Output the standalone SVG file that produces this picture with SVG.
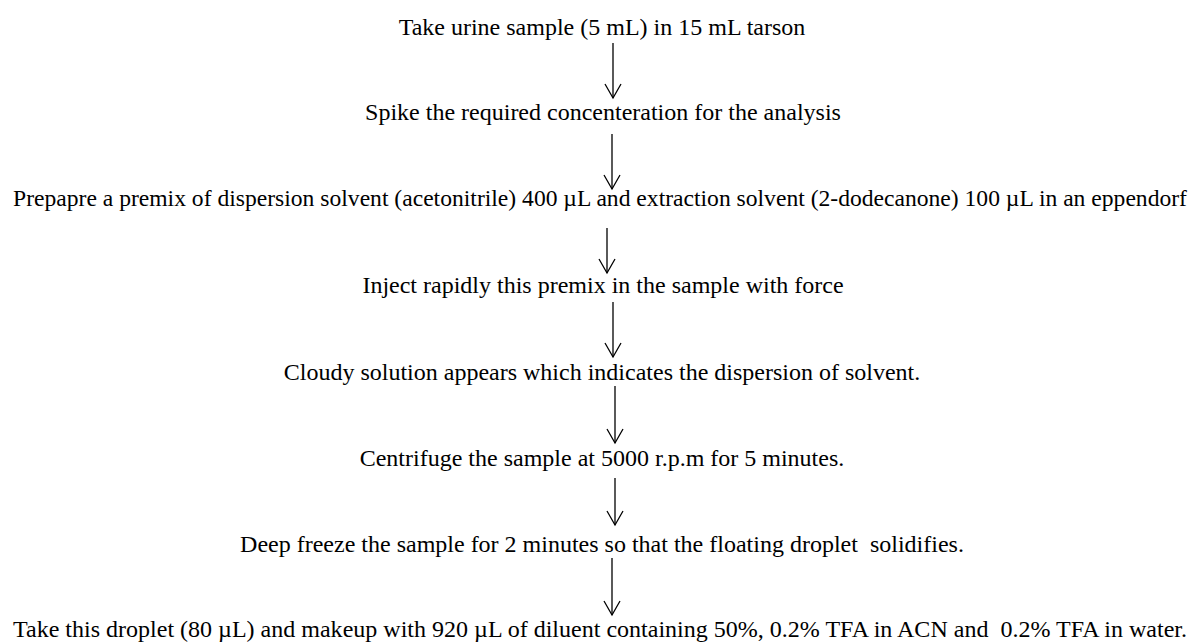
<svg xmlns="http://www.w3.org/2000/svg" width="1198" height="644" viewBox="0 0 1198 644">
  <style>
    .t { font-family: "Liberation Serif", "Times New Roman", serif; font-size: 24px; fill: #000; text-anchor: middle; }
    .c { stroke: #000; stroke-width: 1.3; fill: none; }
  </style>
  <defs>
    <marker id="ah" markerUnits="userSpaceOnUse" markerWidth="20" markerHeight="20" viewBox="-1 -1 18 20" refX="14" refY="8" orient="auto" overflow="visible">
      <path d="M0,0 L14,8 L0,16" fill="none" stroke="#000" stroke-width="1.3"/>
    </marker>
  </defs>
  <rect width="1198" height="644" fill="#fff"/>
  <g id="n1"><text class="t" x="602" y="35">Take urine sample (5 mL) in 15 mL tarson</text></g>
  <g id="n2"><text class="t" x="603" y="120">Spike the required concenteration for the analysis</text></g>
  <g id="n3"><text class="t" x="600" y="206" style="font-size:23.6px">Prepapre a premix of dispersion solvent (acetonitrile) 400 µL and extraction solvent (2-dodecanone) 100 µL in an eppendorf</text></g>
  <g id="n4"><text class="t" x="603" y="293">Inject rapidly this premix in the sample with force</text></g>
  <g id="n5"><text class="t" x="602" y="380">Cloudy solution appears which indicates the dispersion of solvent.</text></g>
  <g id="n6"><text class="t" x="602" y="466">Centrifuge the sample at 5000 r.p.m for 5 minutes.</text></g>
  <g id="n7"><text class="t" x="602" y="552" xml:space="preserve">Deep freeze the sample for 2 minutes so that the floating droplet  solidifies.</text></g>
  <g id="n8"><text class="t" x="600" y="637" xml:space="preserve" textLength="1174" lengthAdjust="spacingAndGlyphs">Take this droplet (80 µL) and makeup with 920 µL of diluent containing 50%, 0.2% TFA in ACN and  0.2% TFA in water.</text></g>
  <g id="connectors">
    <line class="c" x1="613" y1="43" x2="613" y2="98" marker-end="url(#ah)"/>
    <line class="c" x1="612" y1="134" x2="612" y2="189" marker-end="url(#ah)"/>
    <line class="c" x1="607" y1="228" x2="607" y2="273" marker-end="url(#ah)"/>
    <line class="c" x1="613" y1="302" x2="613" y2="357" marker-end="url(#ah)"/>
    <line class="c" x1="615" y1="386" x2="615" y2="443" marker-end="url(#ah)"/>
    <line class="c" x1="615" y1="478" x2="615" y2="525" marker-end="url(#ah)"/>
    <line class="c" x1="612" y1="558" x2="612" y2="615" marker-end="url(#ah)"/>
  </g>
</svg>
